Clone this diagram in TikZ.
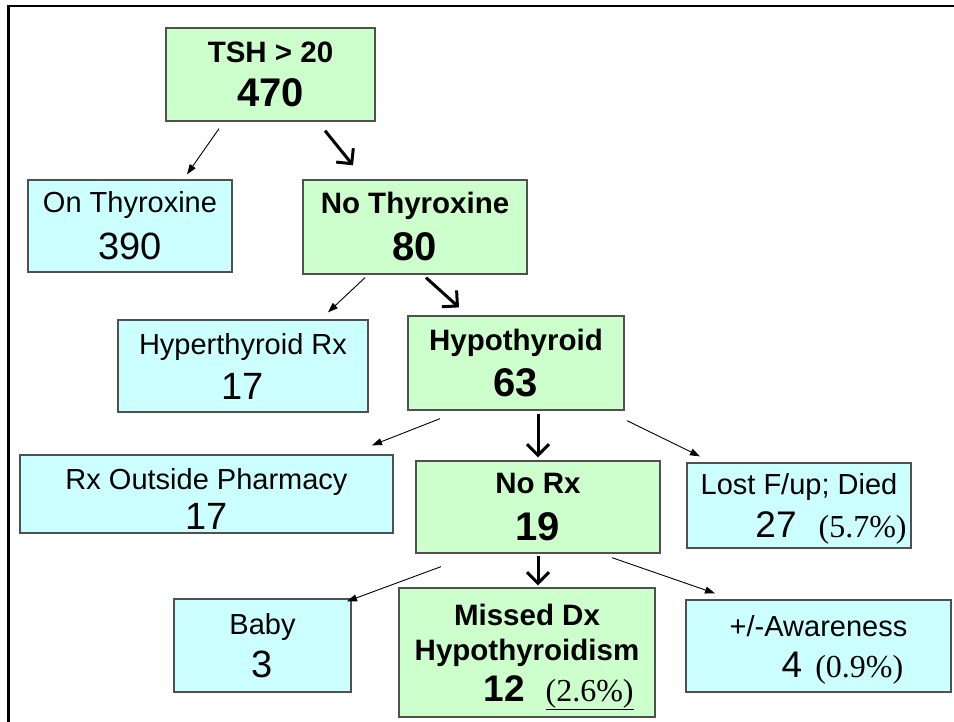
\documentclass[tikz,border=0pt]{standalone}
\usepackage{fontspec}
\setmainfont{Liberation Sans}
\newfontfamily\tnr{Liberation Serif}
\usetikzlibrary{arrows.meta}
\definecolor{greenfill}{HTML}{CCFFCC}
\definecolor{cyanfill}{HTML}{CCFFFF}
\definecolor{boxline}{HTML}{505050}
\newcommand\bnum{\fontsize{40}{44}\selectfont}
\newcommand\rnum{\fontsize{38}{44}\selectfont}
\newcommand\snum{\fontsize{37}{44}\selectfont}
\newcommand\pct[1]{{\tnr\mdseries\fontsize{32}{44}\selectfont\smash{#1}}}
\tikzset{
  boxbase/.style={draw=boxline, line width=1.3pt, inner sep=0pt, align=center},
  greenbox/.style={boxbase, fill=greenfill, font=\bfseries\fontsize{29.5}{44}\selectfont},
  cyanbox/.style={boxbase, fill=cyanfill, font=\fontsize{29}{44}\selectfont},
  thinarrow/.style={-{Triangle[length=10pt,width=7pt]}, line width=0.9pt},
  thickarrow/.style={-{Straight Barb[length=11pt,width=22pt]}, line width=3pt},
  framestyle/.style={line width=2.5pt}
}
\begin{document}
\begin{tikzpicture}[x=1pt,y=-1pt]
\useasboundingbox (0,0) rectangle (954,721);
\fill[white] (0,0) rectangle (954,721);
\draw[framestyle] (8.5,722) -- (8.5,6) -- (955,6);

\node[greenbox, minimum width=209pt, minimum height=93pt] (tsh) at (270.5,74.5) {TSH > 20\\[0pt]\bnum 470};
\node[cyanbox, minimum width=204pt, minimum height=92pt] (onthy) at (130,226) {On Thyroxine\\[3pt]\rnum 390};
\node[greenbox, minimum width=224pt, minimum height=94pt] (nothy) at (415,227) {No Thyroxine\\[3pt]\bnum 80};
\node[cyanbox, minimum width=250pt, minimum height=92pt] (hyper) at (243,366) {Hyperthyroid Rx\\[1pt]\rnum 17};
\node[greenbox, minimum width=216pt, minimum height=94pt] (hypo) at (516,363) {Hypothyroid\\[2pt]\bnum 63};
\node[cyanbox, minimum width=373pt, minimum height=78pt] (rxout) at (206.5,494) {\rule{0pt}{31pt}Rx Outside Pharmacy\\[-4pt]\rnum 17};
\node[greenbox, minimum width=244pt, minimum height=92pt] (norx) at (538,507) {No Rx\\[3pt]\bnum 19};
\node[cyanbox, minimum width=224pt, minimum height=85pt] (lost) at (799,505.5) {Lost F/up; Died\\[-1pt]\hspace*{64pt}\snum 27\hspace{22pt}\pct{(5.7\%)}};
\node[cyanbox, minimum width=177pt, minimum height=93pt] (baby) at (262.5,645.5) {Baby\\[-1pt]\rnum 3};
\node[greenbox, minimum width=256pt, minimum height=129pt] (missed) at (527,652.5) {Missed Dx\\[-9pt]Hypothyroidism\\[-3pt]\hspace*{63pt}\snum 12\hspace{21pt}\pct{\underline{(2.6\%)}}};
\node[cyanbox, minimum width=265pt, minimum height=92pt] (aware) at (818.5,646) {+/-Awareness\\[-3pt]\hspace*{48pt}\snum 4\hspace{13pt}\pct{(0.9\%)}};

\draw[thinarrow] ([xshift=-51.5pt,yshift=-7pt]tsh.south) -- ([xshift=57pt,yshift=5pt]onthy.north);
\draw[thickarrow] ([xshift=54.5pt,yshift=-9pt]tsh.south) -- ([xshift=-62pt,yshift=14pt]nothy.north);
\draw[thinarrow] ([xshift=-50pt,yshift=-3pt]nothy.south) -- ([xshift=85pt,yshift=7pt]hyper.north);
\draw[thickarrow] ([xshift=11pt,yshift=-3pt]nothy.south) -- ([xshift=-57pt,yshift=8pt]hypo.north);
\draw[thinarrow] ([xshift=-76pt,yshift=-8pt]hypo.south) -- ([xshift=165.5pt,yshift=9pt]rxout.north);
\draw[thickarrow] ([xshift=22pt,yshift=-3pt]hypo.south) -- ([xshift=0pt,yshift=3pt]norx.north);
\draw[thinarrow] ([xshift=111pt,yshift=-10pt]hypo.south) -- ([xshift=-99pt,yshift=6pt]lost.north);
\draw[thinarrow] ([xshift=-97pt,yshift=-13pt]norx.south) -- ([xshift=84.5pt,yshift=-3pt]baby.north);
\draw[thickarrow] ([xshift=0pt,yshift=-2pt]norx.south) -- ([xshift=11pt,yshift=2pt]missed.north);
\draw[thinarrow] ([xshift=74pt,yshift=-4pt]norx.south) -- ([xshift=-103.5pt,yshift=6pt]aware.north);
\end{tikzpicture}
\end{document}
